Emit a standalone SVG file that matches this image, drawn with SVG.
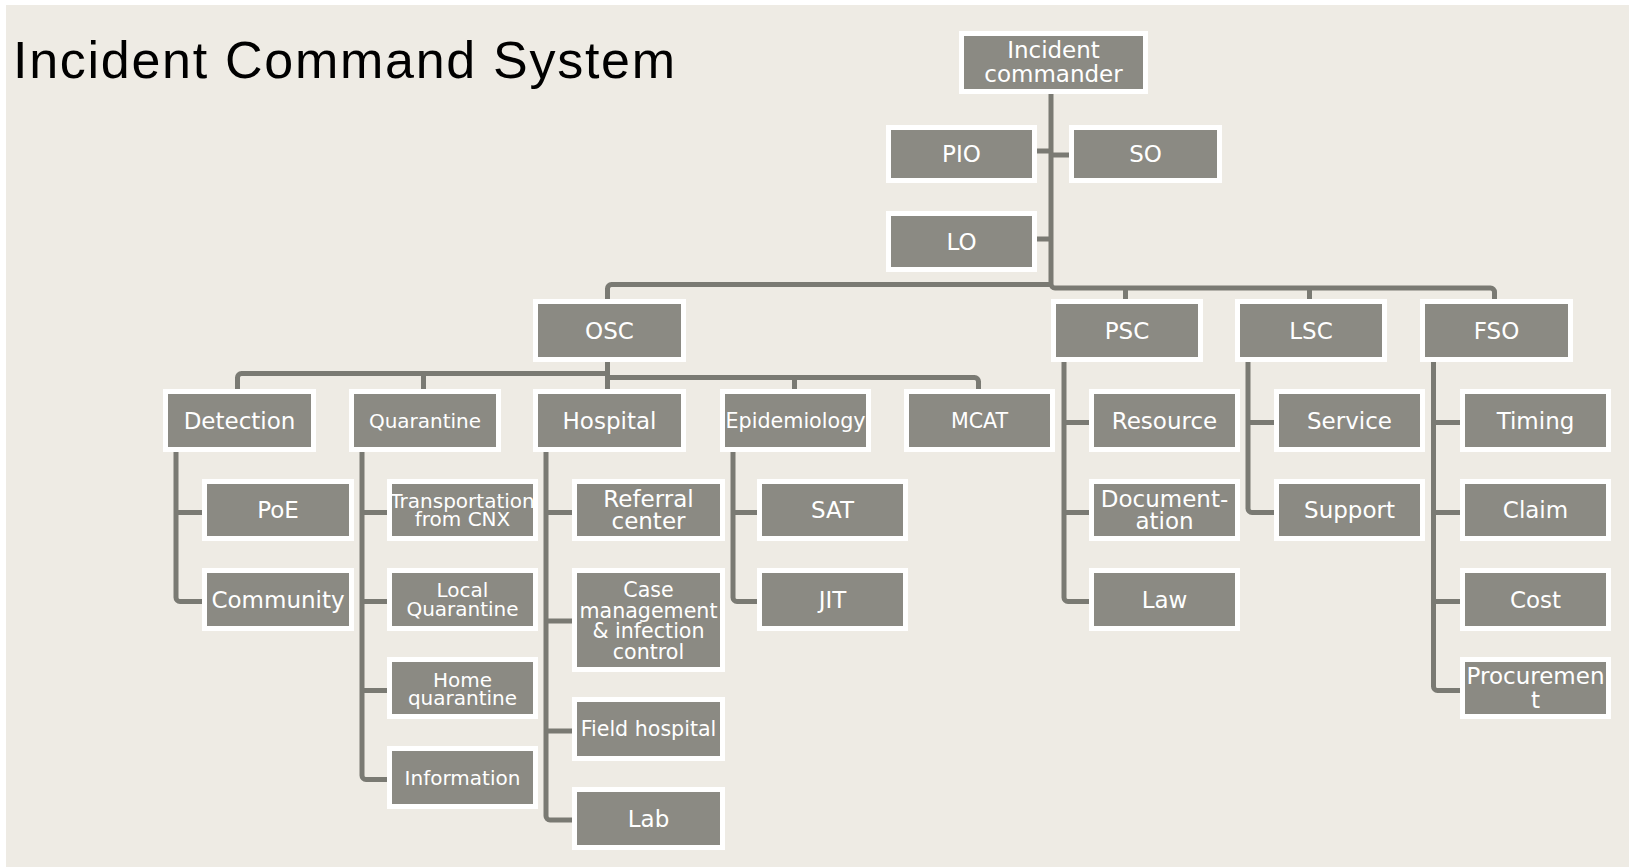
<svg xmlns="http://www.w3.org/2000/svg" width="1629" height="867" viewBox="0 0 1629 867">
<style>
.bg{fill:#EEEBE4}
.box{fill:#8B8A83;stroke:#FFFFFF;stroke-width:5}
.lbl{font-family:"DejaVu Sans",sans-serif;fill:#FFFFFF;text-anchor:middle;font-size:23px}
.s20{font-size:20px}
.s21{font-size:20.6px}
.con{fill:none;stroke:#7A7A73;stroke-width:5}
.title{font-family:"Liberation Sans",Arial,sans-serif;font-size:52px;fill:#000000}
</style>
<rect x="0" y="0" width="1629" height="867" fill="#FFFFFF"/>
<rect class="bg" x="6" y="5" width="1623" height="862"/>
<text class="title" x="13" y="78" textLength="662">Incident Command System</text>

<g id="connectors">
<path class="con" d="M1051,94 V284 A4,4 0 0 0 1055,288 H1490.5 A4,4 0 0 1 1494.5,292 V299"/>
<path class="con" d="M1125.5,288 V299 M1309.5,288 V299"/>
<path class="con" d="M1051,284.5 H611.5 A4,4 0 0 0 607.5,288.5 V299"/>
<path class="con" d="M1037,151 H1051 M1051,155 H1069 M1037,239 H1051"/>
<path class="con" d="M607.5,362 V389"/>
<path class="con" d="M607.5,373.5 H241.5 A4,4 0 0 0 237.5,377.5 V389 M423.5,373.5 V389"/>
<path class="con" d="M607.5,377.5 H974.5 A4,4 0 0 1 978.5,381.5 V389 M794.5,377.5 V389"/>
<path class="con" d="M176,452 V597.5 A4,4 0 0 0 180,601.5 H202 M176,512.5 H202"/>
<path class="con" d="M362,452 V775.5 A4,4 0 0 0 366,779.5 H387 M362,512.5 H387 M362,601.5 H387 M362,690.5 H387"/>
<path class="con" d="M546,452 V816 A4,4 0 0 0 550,820 H572 M546,512.5 H572 M546,621 H572 M546,731 H572"/>
<path class="con" d="M733,452 V597.5 A4,4 0 0 0 737,601.5 H757 M733,512.5 H757"/>
<path class="con" d="M1064,362 V597.5 A4,4 0 0 0 1068,601.5 H1089 M1064,422.5 H1089 M1064,512.5 H1089"/>
<path class="con" d="M1248,362 V508.5 A4,4 0 0 0 1252,512.5 H1274 M1248,422.5 H1274"/>
<path class="con" d="M1433.5,362 V686.5 A4,4 0 0 0 1437.5,690.5 H1460 M1433.5,422.5 H1460 M1433.5,512.5 H1460 M1433.5,601.5 H1460"/>
</g>

<g id="ic"><rect class="box" x="961.5" y="33.5" width="184" height="58"/><text class="lbl" x="1053.5" y="57.5">Incident</text><text class="lbl" x="1053.5" y="82">commander</text></g>
<g id="pio"><rect class="box" x="888.5" y="127.5" width="146" height="53"/><text class="lbl" x="961.5" y="162">PIO</text></g>
<g id="so"><rect class="box" x="1071.5" y="127.5" width="148" height="53"/><text class="lbl" x="1145.5" y="162">SO</text></g>
<g id="lo"><rect class="box" x="888.5" y="213.5" width="146" height="56"/><text class="lbl" x="961.5" y="249.5">LO</text></g>

<g id="osc"><rect class="box" x="535.5" y="301.5" width="148" height="58"/><text class="lbl" x="609.5" y="338.5">OSC</text></g>
<g id="psc"><rect class="box" x="1053.5" y="301.5" width="147" height="58"/><text class="lbl" x="1127" y="338.5">PSC</text></g>
<g id="lsc"><rect class="box" x="1237.5" y="301.5" width="147" height="58"/><text class="lbl" x="1311" y="338.5">LSC</text></g>
<g id="fso"><rect class="box" x="1422.5" y="301.5" width="148" height="58"/><text class="lbl" x="1496.5" y="338.5">FSO</text></g>

<g id="detection"><rect class="box" x="165.5" y="391.5" width="148" height="58"/><text class="lbl" x="239.5" y="428.5">Detection</text></g>
<g id="quarantine"><rect class="box" x="351.5" y="391.5" width="147" height="58"/><text class="lbl s20" x="425" y="427.5">Quarantine</text></g>
<g id="hospital"><rect class="box" x="535.5" y="391.5" width="148" height="58"/><text class="lbl" x="609.5" y="428.5">Hospital</text></g>
<g id="epidemiology"><rect class="box" x="722.5" y="391.5" width="146" height="58"/><text class="lbl s21" x="795.5" y="428" textLength="140" lengthAdjust="spacingAndGlyphs">Epidemiology</text></g>
<g id="mcat"><rect class="box" x="906.5" y="391.5" width="146" height="58"/><text class="lbl s21" x="979.5" y="428">MCAT</text></g>
<g id="resource"><rect class="box" x="1091.5" y="391.5" width="146" height="58"/><text class="lbl" x="1164.5" y="428.5">Resource</text></g>
<g id="service"><rect class="box" x="1276.5" y="391.5" width="146" height="58"/><text class="lbl" x="1349.5" y="428.5">Service</text></g>
<g id="timing"><rect class="box" x="1462.5" y="391.5" width="146" height="58"/><text class="lbl" x="1535.5" y="428.5">Timing</text></g>

<g id="poe"><rect class="box" x="204.5" y="481.5" width="147" height="57"/><text class="lbl" x="278" y="518">PoE</text></g>
<g id="transportation"><rect class="box" x="389.5" y="481.5" width="146" height="57"/><text class="lbl s20" x="462.5" y="507.5">Transportation</text><text class="lbl s20" x="462.5" y="525.5">from CNX</text></g>
<g id="referral"><rect class="box" x="574.5" y="481.5" width="148" height="57"/><text class="lbl" x="648.5" y="506.5">Referral</text><text class="lbl" x="648.5" y="529">center</text></g>
<g id="sat"><rect class="box" x="759.5" y="481.5" width="146" height="57"/><text class="lbl" x="832.5" y="518">SAT</text></g>
<g id="documentation"><rect class="box" x="1091.5" y="481.5" width="146" height="57"/><text class="lbl" x="1164.5" y="506.5">Document-</text><text class="lbl" x="1164.5" y="529">ation</text></g>
<g id="support"><rect class="box" x="1276.5" y="481.5" width="146" height="57"/><text class="lbl" x="1349.5" y="518">Support</text></g>
<g id="claim"><rect class="box" x="1462.5" y="481.5" width="146" height="57"/><text class="lbl" x="1535.5" y="518">Claim</text></g>

<g id="community"><rect class="box" x="204.5" y="570.5" width="147" height="58"/><text class="lbl" x="278" y="607.5">Community</text></g>
<g id="localq"><rect class="box" x="389.5" y="570.5" width="146" height="58"/><text class="lbl s20" x="462.5" y="597">Local</text><text class="lbl s20" x="462.5" y="616">Quarantine</text></g>
<g id="casemgmt"><rect class="box" x="574.5" y="570.5" width="148" height="99"/><text class="lbl s21" x="648.5" y="597">Case</text><text class="lbl s21" x="648.5" y="617.5">management</text><text class="lbl s21" x="648.5" y="638">&amp; infection</text><text class="lbl s21" x="648.5" y="658.5">control</text></g>
<g id="jit"><rect class="box" x="759.5" y="570.5" width="146" height="58"/><text class="lbl" x="832.5" y="607.5">JIT</text></g>
<g id="law"><rect class="box" x="1091.5" y="570.5" width="146" height="58"/><text class="lbl" x="1164.5" y="607.5">Law</text></g>
<g id="cost"><rect class="box" x="1462.5" y="570.5" width="146" height="58"/><text class="lbl" x="1535.5" y="607.5">Cost</text></g>

<g id="homeq"><rect class="box" x="389.5" y="659.5" width="146" height="57"/><text class="lbl s20" x="462.5" y="687">Home</text><text class="lbl s20" x="462.5" y="705">quarantine</text></g>
<g id="fieldhosp"><rect class="box" x="574.5" y="699.5" width="148" height="59"/><text class="lbl s21" x="648.5" y="736">Field hospital</text></g>
<g id="procurement"><rect class="box" x="1462.5" y="659.5" width="146" height="57"/><text class="lbl" x="1535.5" y="684">Procuremen</text><text class="lbl" x="1535.5" y="708">t</text></g>

<g id="information"><rect class="box" x="389.5" y="748.5" width="146" height="58"/><text class="lbl s20" x="462.5" y="785">Information</text></g>
<g id="lab"><rect class="box" x="574.5" y="789.5" width="148" height="58"/><text class="lbl" x="648.5" y="826.5">Lab</text></g>
</svg>
